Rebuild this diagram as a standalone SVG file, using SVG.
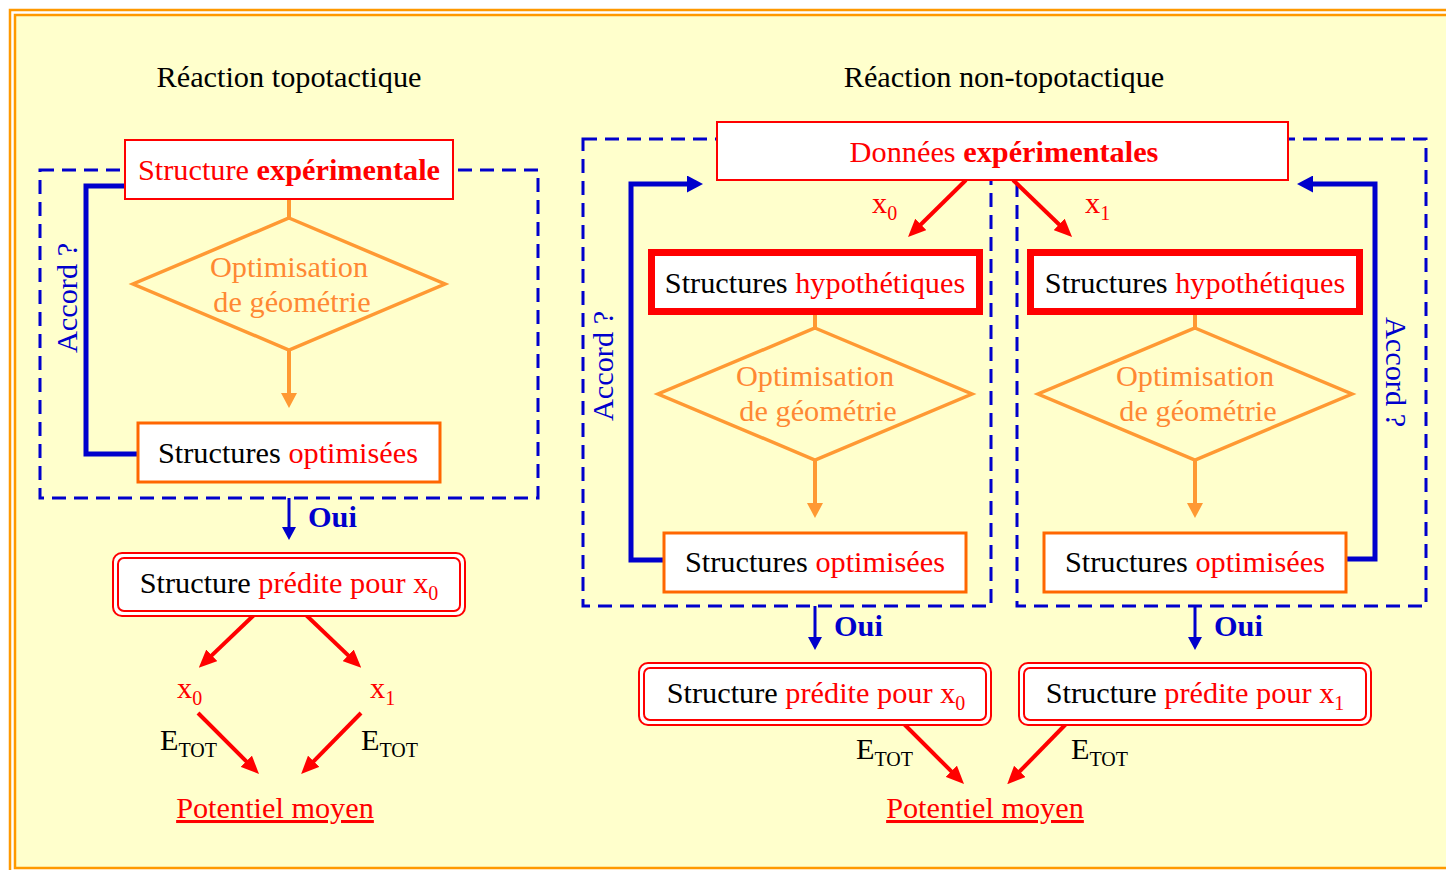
<svg xmlns="http://www.w3.org/2000/svg" width="1446" height="870" viewBox="0 0 1446 870">
<style>
text{font-family:"Liberation Serif","Times New Roman",serif;font-size:30.3px}
.c{text-anchor:middle}
.blk{fill:#000}
.red{fill:#FF0000}
.blue{fill:#0000CC}
.org{fill:#FF8833}
.b{font-weight:bold}
.sub{font-size:20px}
.dash{fill:none;stroke:#0000CC;stroke-width:3;stroke-dasharray:14 8}
.loop{fill:none;stroke:#0000CC;stroke-width:5;stroke-linejoin:miter}
.oui{fill:none;stroke:#0000CC;stroke-width:3}
.ra{fill:none;stroke:#FF0000;stroke-width:4}
.oa{fill:none;stroke:#FF9933;stroke-width:4}
.dia{fill:none;stroke:#FF9933;stroke-width:3.5}
.exp{fill:#fff;stroke:#FF0000;stroke-width:2}
.hyp{fill:#fff;stroke:#FF0000;stroke-width:7}
.opt{fill:#fff;stroke:#FF6600;stroke-width:3}
.pr{fill:#fff;stroke:#FF0000;stroke-width:2}
</style>
<defs>
<marker id="mBlueBig" markerUnits="userSpaceOnUse" markerWidth="16" markerHeight="17" refX="4" refY="8.5" orient="auto"><path d="M0,0 L16,8.5 L0,17 z" fill="#0000CC"/></marker>
<marker id="mBlue" markerUnits="userSpaceOnUse" markerWidth="13" markerHeight="14" refX="3" refY="7" orient="auto"><path d="M0,0 L13,7 L0,14 z" fill="#0000CC"/></marker>
<marker id="mOrg" markerUnits="userSpaceOnUse" markerWidth="15" markerHeight="16" refX="3" refY="8" orient="auto"><path d="M0,0 L15,8 L0,16 z" fill="#FF9933"/></marker>
<marker id="mRed" markerUnits="userSpaceOnUse" markerWidth="18" markerHeight="16" refX="4" refY="8" orient="auto"><path d="M0,0 L18,8 L0,16 z" fill="#FF0000"/></marker>
</defs>
<rect x="0" y="0" width="1446" height="870" fill="#fff"/>
<rect x="10" y="10" width="1450" height="863" fill="#fff" stroke="#FF9900" stroke-width="2.5"/>
<rect x="15" y="15" width="1440" height="853" fill="#FFFFCC" stroke="#FF9900" stroke-width="2.5"/>

<g id="titles">
<text class="c blk" x="289" y="87">Réaction topotactique</text>
<text class="c blk" x="1004" y="87">Réaction non-topotactique</text>
</g>

<g id="groups">
<rect class="dash" x="40" y="170" width="498" height="328"/>
<rect class="dash" x="583" y="139" width="408" height="467"/>
<rect class="dash" x="1017" y="139" width="409" height="467"/>
</g>

<g id="connectors">
<path class="loop" d="M137,454 H86 V186 H131" marker-end="url(#mBlueBig)"/>
<path class="loop" d="M664,560 H631 V184 H691" marker-end="url(#mBlueBig)"/>
<path class="loop" d="M1346,559 H1375 V184 H1309" marker-end="url(#mBlueBig)"/>
<path class="oa" d="M289,199 V218"/>
<path class="oa" d="M289,350 V396" marker-end="url(#mOrg)"/>
<path class="oa" d="M815,314 V328"/>
<path class="oa" d="M815,460 V506" marker-end="url(#mOrg)"/>
<path class="oa" d="M1195,314 V328"/>
<path class="oa" d="M1195,460 V506" marker-end="url(#mOrg)"/>
<path class="oui" d="M289,498 V530" marker-end="url(#mBlue)"/>
<path class="oui" d="M815,606 V640" marker-end="url(#mBlue)"/>
<path class="oui" d="M1195,606 V640" marker-end="url(#mBlue)"/>
<path class="ra" d="M254,615 L208.9,658.1" marker-end="url(#mRed)"/>
<path class="ra" d="M306,615 L351.1,658.1" marker-end="url(#mRed)"/>
<path class="ra" d="M198,713 L249.1,764.1" marker-end="url(#mRed)"/>
<path class="ra" d="M361,713 L310.9,764.1" marker-end="url(#mRed)"/>
<path class="ra" d="M966,180 L918,227.2" marker-end="url(#mRed)"/>
<path class="ra" d="M1013,180 L1062,227.2" marker-end="url(#mRed)"/>
<path class="ra" d="M904,724 L954.1,774.1" marker-end="url(#mRed)"/>
<path class="ra" d="M1066,724 L1017,774.2" marker-end="url(#mRed)"/>
</g>

<g id="labels">
<text class="c blue" transform="translate(77,298) rotate(-90)">Accord ?</text>
<text class="c blue" transform="translate(613,366) rotate(-90)">Accord ?</text>
<text class="c blue" transform="translate(1386,372) rotate(90)">Accord ?</text>
<text class="blue b" x="308" y="527">Oui</text>
<text class="blue b" x="834" y="636">Oui</text>
<text class="blue b" x="1214" y="636">Oui</text>
<text class="red" x="177" y="698">x<tspan class="sub" dy="7">0</tspan></text>
<text class="red" x="370" y="698">x<tspan class="sub" dy="7">1</tspan></text>
<text class="blk" x="160" y="750">E<tspan class="sub" dy="7">TOT</tspan></text>
<text class="blk" x="361" y="750">E<tspan class="sub" dy="7">TOT</tspan></text>
<text class="red" x="872" y="213">x<tspan class="sub" dy="7">0</tspan></text>
<text class="red" x="1085" y="213">x<tspan class="sub" dy="7">1</tspan></text>
<text class="blk" x="856" y="759">E<tspan class="sub" dy="7">TOT</tspan></text>
<text class="blk" x="1071" y="759">E<tspan class="sub" dy="7">TOT</tspan></text>
</g>

<g id="node-exp-left">
<rect class="exp" x="125" y="140" width="328" height="59"/>
<text class="c red" x="289" y="180">Structure <tspan class="b">expérimentale</tspan></text>
</g>
<g id="node-opt-geo-left">
<polygon class="dia" points="289,218 445,284 289,350 133,284"/>
<text class="c org" x="289" y="276.5">Optimisation</text>
<text class="c org" x="292" y="311.5">de géométrie</text>
</g>
<g id="node-optimisees-left">
<rect class="opt" x="138" y="423" width="302" height="59"/>
<text class="c blk" x="288" y="463">Structures <tspan class="red">optimisées</tspan></text>
</g>
<g id="node-predite-left">
<rect class="pr" x="113" y="553" width="352" height="63" rx="9"/>
<rect class="pr" x="118" y="558" width="342" height="53" rx="6"/>
<text class="c blk" x="289" y="593">Structure <tspan class="red">prédite pour x<tspan class="sub" dy="7">0</tspan></tspan></text>
</g>
<g id="node-potentiel-left">
<text class="c red" x="275" y="818" text-decoration="underline">Potentiel moyen</text>
</g>

<g id="node-donnees">
<rect class="exp" x="717" y="122" width="571" height="58"/>
<text class="c red" x="1004" y="162">Données <tspan class="b">expérimentales</tspan></text>
</g>
<g id="node-hyp-0">
<rect class="hyp" x="651.5" y="252.5" width="328" height="59"/>
<text class="c blk" x="815" y="293">Structures <tspan class="red">hypothétiques</tspan></text>
</g>
<g id="node-hyp-1">
<rect class="hyp" x="1030.5" y="252.5" width="329" height="59"/>
<text class="c blk" x="1195" y="293">Structures <tspan class="red">hypothétiques</tspan></text>
</g>
<g id="node-opt-geo-0">
<polygon class="dia" points="815,328 972,394 815,460 658,394"/>
<text class="c org" x="815" y="386">Optimisation</text>
<text class="c org" x="818" y="421">de géométrie</text>
</g>
<g id="node-opt-geo-1">
<polygon class="dia" points="1195,328 1352,394 1195,460 1038,394"/>
<text class="c org" x="1195" y="386">Optimisation</text>
<text class="c org" x="1198" y="421">de géométrie</text>
</g>
<g id="node-optimisees-0">
<rect class="opt" x="664" y="533" width="302" height="59"/>
<text class="c blk" x="815" y="572">Structures <tspan class="red">optimisées</tspan></text>
</g>
<g id="node-optimisees-1">
<rect class="opt" x="1044" y="533" width="302" height="59"/>
<text class="c blk" x="1195" y="572">Structures <tspan class="red">optimisées</tspan></text>
</g>
<g id="node-predite-0">
<rect class="pr" x="639" y="663" width="352" height="62" rx="9"/>
<rect class="pr" x="644" y="668" width="342" height="52" rx="6"/>
<text class="c blk" x="816" y="703">Structure <tspan class="red">prédite pour x<tspan class="sub" dy="7">0</tspan></tspan></text>
</g>
<g id="node-predite-1">
<rect class="pr" x="1019" y="663" width="352" height="62" rx="9"/>
<rect class="pr" x="1024" y="668" width="342" height="52" rx="6"/>
<text class="c blk" x="1195" y="703">Structure <tspan class="red">prédite pour x<tspan class="sub" dy="7">1</tspan></tspan></text>
</g>
<g id="node-potentiel-right">
<text class="c red" x="985" y="818" text-decoration="underline">Potentiel moyen</text>
</g>
</svg>
